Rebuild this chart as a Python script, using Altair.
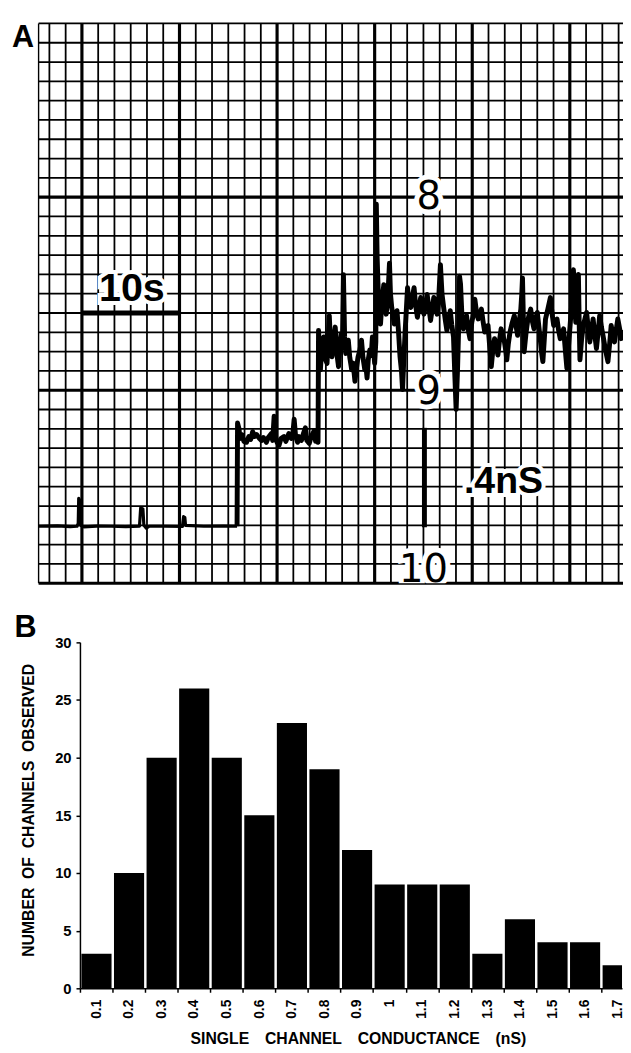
import altair as alt
import pandas as pd

FONT = "Liberation Sans"
DIGIT_FONT = "DejaVu Sans"

# ------------------------------------------------------------------ panel B data
conductance_ns = [0.1, 0.2, 0.3, 0.4, 0.5, 0.6, 0.7, 0.8, 0.9, 1.0,
                  1.1, 1.2, 1.3, 1.4, 1.5, 1.6, 1.7]
channels_observed = [3, 10, 20, 26, 20, 15, 23, 19, 12, 9, 9, 9, 3, 6, 4, 4, 2]
bin_edges_ns = [0.05, 0.15, 0.25, 0.35, 0.45, 0.55, 0.65, 0.75, 0.85, 0.95,
                1.05, 1.15, 1.25, 1.35, 1.45, 1.55, 1.65]
count_ticks = [0, 5, 10, 15, 20, 25, 30]

# ------------------------------------------------------------------ panel A data
# chart-recorder trace: time (s) vs pen position (minor chart divisions above the "10" line)
trace_points = [
    (-4.44, 2.95), (-2.5, 2.97), (-1.2, 2.93), (-0.5, 2.95), (-0.38, 3.1), (-0.33, 4.4),
    (-0.22, 4.3), (-0.15, 3.0), (0.2, 2.92), (1.5, 2.96), (3.0, 2.95), (4.5, 2.93),
    (5.9, 2.96), (6.02, 3.9), (6.25, 3.85), (6.35, 3.0), (6.6, 2.85), (6.9, 2.95),
    (8.5, 2.95), (10.3, 2.94), (10.42, 3.45), (10.55, 3.4), (10.62, 3.0), (12.5, 2.95),
    (14.5, 2.96), (15.9, 2.95),
    (15.95, 8.3), (16.1, 8.0), (16.2, 7.5), (16.4, 7.7), (16.6, 7.35), (16.87, 7.3),
    (17.1, 7.6), (17.3, 7.45), (17.5, 7.85), (17.7, 7.6), (17.9, 7.7), (18.2, 7.5),
    (18.4, 7.4), (18.6, 7.55), (18.9, 7.3), (19.1, 7.55), (19.4, 7.75), (19.55, 7.4),
    (19.7, 8.65), (19.85, 7.5), (20.0, 7.3), (20.2, 7.15), (20.4, 7.5), (20.7, 7.6),
    (20.9, 7.35), (21.2, 7.75), (21.45, 7.5), (21.6, 7.65), (21.75, 8.5), (21.9, 7.6),
    (22.1, 7.3), (22.25, 7.6), (22.5, 7.4), (22.7, 7.75), (22.9, 8.05), (23.05, 7.4),
    (23.3, 7.25), (23.5, 7.6), (23.8, 7.9), (23.95, 7.35), (24.1, 7.5), (24.2, 7.3),
    (24.25, 13.1), (24.44, 11.06), (24.6, 12.4), (24.78, 12.76), (24.95, 11.6),
    (25.12, 11.39), (25.35, 13.86), (25.5, 12.2), (25.63, 11.73), (25.8, 12.6),
    (25.96, 13.27), (26.15, 11.8), (26.3, 11.22), (26.45, 12.3), (26.57, 12.92),
    (26.7, 12.5), (26.8, 15.98), (26.92, 12.8), (27.04, 11.9), (27.15, 12.3),
    (27.3, 12.59), (27.45, 11.7), (27.65, 11.06), (27.8, 11.4), (27.98, 10.46),
    (28.15, 11.2), (28.3, 11.73), (28.5, 12.1), (28.65, 12.59), (28.8, 11.7),
    (28.99, 11.06), (29.1, 11.3), (29.22, 10.63), (29.35, 11.6), (29.5, 12.08),
    (29.65, 11.8), (29.77, 12.76), (29.9, 12.0), (30.0, 11.39), (30.12, 12.5),
    (30.17, 19.64), (30.25, 17.0), (30.33, 15.65), (30.45, 14.2), (30.6, 13.43),
    (30.75, 14.6), (30.94, 15.47), (31.05, 14.5), (31.18, 13.94), (31.35, 14.8),
    (31.52, 16.58), (31.62, 15.0), (31.75, 14.29), (31.9, 13.8), (32.02, 13.43),
    (32.15, 13.9), (32.29, 14.12), (32.45, 13.0), (32.6, 11.73), (32.75, 11.0),
    (32.86, 10.04), (32.98, 11.5), (33.13, 13.1), (33.25, 14.2), (33.37, 15.31),
    (33.5, 14.6), (33.7, 14.29), (33.85, 14.8), (34.04, 15.31), (34.2, 14.4),
    (34.38, 13.78), (34.55, 14.3), (34.72, 14.8), (34.9, 14.2), (35.05, 13.94),
    (35.2, 14.4), (35.38, 14.96), (35.55, 14.3), (35.73, 13.61), (35.9, 14.2),
    (36.06, 14.8), (36.25, 14.3), (36.4, 13.94), (36.55, 14.6), (36.74, 16.5),
    (36.9, 15.0), (37.07, 14.29), (37.25, 13.6), (37.4, 13.1), (37.6, 13.7),
    (37.75, 14.12), (37.9, 13.4), (38.08, 12.76), (38.2, 11.0), (38.35, 9.01),
    (38.5, 11.2), (38.62, 13.43), (38.7, 15.9), (38.8, 15.5), (38.95, 13.8),
    (39.09, 13.18), (39.25, 13.6), (39.42, 13.86), (39.6, 13.1), (39.77, 12.67),
    (39.95, 13.5), (40.1, 13.9), (40.27, 14.71), (40.45, 14.0), (40.61, 13.69),
    (40.78, 13.9), (40.94, 14.2), (41.1, 13.6), (41.28, 13.01), (41.45, 13.3),
    (41.62, 13.35), (41.8, 12.2), (41.95, 11.22), (42.1, 12.0), (42.29, 12.67),
    (42.45, 12.3), (42.63, 11.82), (42.8, 12.6), (42.96, 13.18), (43.12, 12.9),
    (43.3, 12.5), (43.45, 12.0), (43.54, 11.57), (43.7, 12.4), (43.87, 13.01),
    (44.1, 13.5), (44.31, 13.86), (44.5, 13.3), (44.65, 12.84), (44.8, 13.5),
    (44.98, 14.2), (45.08, 15.0), (45.15, 15.82), (45.25, 13.5), (45.32, 11.99),
    (45.5, 12.9), (45.66, 13.52), (45.82, 13.9), (45.99, 14.2), (46.15, 13.6),
    (46.33, 13.18), (46.5, 13.7), (46.67, 14.03), (46.85, 13.2), (47.0, 12.5),
    (47.12, 11.9), (47.24, 11.48), (47.38, 12.6), (47.51, 13.69), (47.75, 14.2),
    (48.01, 14.8), (48.2, 13.9), (48.35, 13.35), (48.52, 13.5), (48.69, 13.69),
    (48.85, 13.1), (49.02, 12.67), (49.2, 12.9), (49.36, 13.18), (49.52, 12.2),
    (49.7, 11.14), (49.87, 12.3), (50.03, 13.35), (50.2, 14.5), (50.37, 16.24),
    (50.5, 14.5), (50.61, 13.52), (50.75, 14.6), (50.88, 15.99), (50.96, 13.5),
    (51.04, 11.57), (51.2, 12.6), (51.38, 13.35), (51.55, 13.7), (51.72, 14.03),
    (51.9, 13.2), (52.05, 12.5), (52.22, 13.1), (52.39, 13.69), (52.55, 12.9),
    (52.73, 12.16), (52.9, 13.0), (53.06, 13.86), (53.23, 13.3), (53.4, 12.84),
    (53.65, 12.1), (53.91, 11.48), (54.08, 12.4), (54.24, 13.35), (54.4, 12.9),
    (54.58, 12.5), (54.75, 13.1), (54.92, 13.69), (55.1, 13.2), (55.25, 12.67),
    (55.5, 13.0), (56.0, 12.8),
]
first_opening_s = 15.9   # end of the closed-state baseline

# chart paper ruling (minor divisions); 6 time divisions = 10 s, 10 pen divisions per major
paper_rows_div = list(range(0, 30))
paper_cols_idx = list(range(-2, 34))
paper_left_s = -4.44
paper_right_s = 56.0
paper_top_div = 29

# scale bars and labels drawn on the paper (data coordinates)
time_bar = {"t0": [0.0], "t1": [10.0], "d": [14.0]}
cond_bar = {"t": [35.1], "d0": [2.9], "d1": [8.05]}
grid_numbers = {"label": ["8", "9"], "t": [35.55, 35.55], "d": [19.39, 9.27]}
grid_number_cut = {"label": ["10"], "t": [35.0], "d": [0.05]}
time_label = {"label": ["10s"], "t": [1.75], "d": [14.64]}
cond_label = {"label": [".4nS"], "t": [39.15], "d": [4.69]}

# ------------------------------------------------------------------ sizes
W = 550
HA = 568
HB = 351

xA = alt.Scale(domain=[-0.202, 55.35], nice=False, zero=False)
yA = alt.Scale(domain=[0, 29], nice=False, zero=False)

rows_df = pd.DataFrame({"div": paper_rows_div})
rows_df["t0"] = paper_left_s
rows_df["t1"] = paper_right_s
cols_df = pd.DataFrame({"k": paper_cols_idx})
border_df = pd.DataFrame({"t": [paper_left_s], "d0": [0], "d1": [paper_top_div]})
trace_df = pd.DataFrame(trace_points, columns=["t", "d"])
trace_df["i"] = range(len(trace_df))

h_lines = alt.Chart(rows_df).mark_rule(color="black").encode(
    x=alt.X("t0:Q", scale=xA, axis=None),
    x2="t1:Q",
    y=alt.Y("div:Q", scale=yA, axis=None),
    strokeWidth=alt.condition(alt.datum.div % 10 == 0, alt.value(3.2), alt.value(1.8)),
)
v_lines = alt.Chart(cols_df).transform_calculate(
    t="datum.k * 10 / 6", d0="0", d1=str(paper_top_div)
).mark_rule(color="black").encode(
    x=alt.X("t:Q", scale=xA, axis=None),
    y=alt.Y("d0:Q", scale=yA, axis=None),
    y2="d1:Q",
    strokeWidth=alt.condition(alt.datum.k % 6 == 0, alt.value(3.2), alt.value(1.8)),
)
left_border = alt.Chart(border_df).mark_rule(color="black", strokeWidth=1.4).encode(
    x=alt.X("t:Q", scale=xA, axis=None),
    y=alt.Y("d0:Q", scale=yA, axis=None),
    y2="d1:Q",
)


def trace_part(test, width):
    return alt.Chart(trace_df).transform_filter(test).mark_line(
        color="black", strokeWidth=width, strokeJoin="round"
    ).encode(
        x=alt.X("t:Q", scale=xA, axis=None),
        y=alt.Y("d:Q", scale=yA, axis=None),
        order="i:Q",
    )


trace_closed = trace_part(alt.datum.t <= first_opening_s, 3.2)
trace_open = trace_part(alt.datum.t >= first_opening_s, 5.0)

tbar = alt.Chart(pd.DataFrame(time_bar)).mark_rule(color="black", strokeWidth=5).encode(
    x=alt.X("t0:Q", scale=xA, axis=None), x2="t1:Q",
    y=alt.Y("d:Q", scale=yA, axis=None),
)
cbar = alt.Chart(pd.DataFrame(cond_bar)).mark_rule(color="black", strokeWidth=5).encode(
    x=alt.X("t:Q", scale=xA, axis=None),
    y=alt.Y("d0:Q", scale=yA, axis=None), y2="d1:Q",
)


def paper_text(data, font, size, weight, align, halo=0, clip=False):
    kw = dict(font=font, fontSize=size, fontWeight=weight, align=align,
              baseline="alphabetic", clip=clip)
    if halo:
        kw.update(color="white", stroke="white", strokeWidth=halo)
    else:
        kw.update(color="black")
    return alt.Chart(pd.DataFrame(data)).mark_text(**kw).encode(
        x=alt.X("t:Q", scale=xA, axis=None),
        y=alt.Y("d:Q", scale=yA, axis=None),
        text="label:N",
    )


texts = [
    paper_text(grid_numbers, DIGIT_FONT, 39, "normal", "center", halo=10),
    paper_text(grid_number_cut, DIGIT_FONT, 39, "normal", "center", halo=10, clip=True),
    paper_text(time_label, FONT, 40, "bold", "left", halo=8),
    paper_text(cond_label, FONT, 38, "bold", "left", halo=8),
    paper_text(grid_numbers, DIGIT_FONT, 39, "normal", "center"),
    paper_text(grid_number_cut, DIGIT_FONT, 39, "normal", "center", clip=True),
    paper_text(time_label, FONT, 40, "bold", "left"),
    paper_text(cond_label, FONT, 38, "bold", "left"),
]

label_a = alt.Chart(pd.DataFrame({"p": ["A"]})).mark_text(
    font=FONT, fontSize=31, fontWeight="bold", align="left", baseline="alphabetic", color="black"
).encode(text="p:N", x=alt.value(-69), y=alt.value(23.5))

panel_a = alt.layer(
    h_lines, v_lines, left_border, tbar, cbar, trace_closed, trace_open, *texts, label_a
).properties(width=W, height=HA)

# ------------------------------------------------------------------ panel B
xB = alt.Scale(domain=[0.05, 1.7141], nice=False, zero=False)
yB = alt.Scale(domain=[0, 30], nice=False, zero=True)

hist_df = pd.DataFrame({"g": conductance_ns, "n": channels_observed})
bars = alt.Chart(hist_df).transform_calculate(
    lo="datum.g - 0.0455", hi="datum.g + 0.047", base="0"
).mark_bar(color="black", clip=True).encode(
    x=alt.X(
        "lo:Q", scale=xB,
        axis=alt.Axis(
            values=bin_edges_ns,
            labelExpr="format(datum.value + 0.05, '.1~f')",
            labelOffset=16.5, labelAngle=270, labelFont=FONT,
            labelFontSize=14, labelFontWeight="bold", labelColor="black", labelPadding=7,
            labelFlush=False, labelOverlap=False, labelBound=False,
            tickSize=4, tickWidth=1.5, tickColor="black", grid=False,
            domainColor="black", domainWidth=1.5,
            title="SINGLE\u2003CHANNEL\u2003CONDUCTANCE\u2003(nS)", titleFont=FONT,
            titleFontSize=16, titleFontWeight="bold", titleColor="black",
            titlePadding=13, titleX=282,
        ),
    ),
    x2="hi:Q",
    y=alt.Y(
        "n:Q", scale=yB,
        axis=alt.Axis(
            values=count_ticks, tickSize=4, tickWidth=1.5, tickColor="black",
            domainColor="black", domainWidth=1.5, grid=False, labelFont=FONT,
            labelFontSize=15, labelFontWeight="bold", labelColor="black", labelPadding=5,
            title="NUMBER\u00a0\u00a0OF\u00a0\u00a0CHANNELS\u00a0\u00a0OBSERVED",
            titleFont=FONT, titleFontSize=16, titleFontWeight="bold", titleColor="black",
            titlePadding=18, titleY=170,
        ),
    ),
    y2="base:Q",
)

label_b = alt.Chart(pd.DataFrame({"p": ["B"]})).mark_text(
    font=FONT, fontSize=31, fontWeight="bold", align="left", baseline="alphabetic", color="black"
).encode(text="p:N", x=alt.value(-66.4), y=alt.value(-5.4))

# white spacer that fixes the left edge of the layout
spacer = alt.Chart(pd.DataFrame({"p": [0]})).mark_rule(color="white", strokeWidth=1).encode(
    x=alt.value(-72.5), x2=alt.value(-72), y=alt.value(100)
)

panel_b = alt.layer(bars, label_b, spacer).properties(width=W, height=HB)

chart = alt.vconcat(panel_a, panel_b, spacing=27).resolve_scale(
    x="independent", y="independent"
).properties(
    padding={"left": 0, "top": 6, "right": -8, "bottom": 0}
).configure_view(strokeWidth=0)

chart.save("out.html", embed_options={"renderer": "svg", "actions": False})
